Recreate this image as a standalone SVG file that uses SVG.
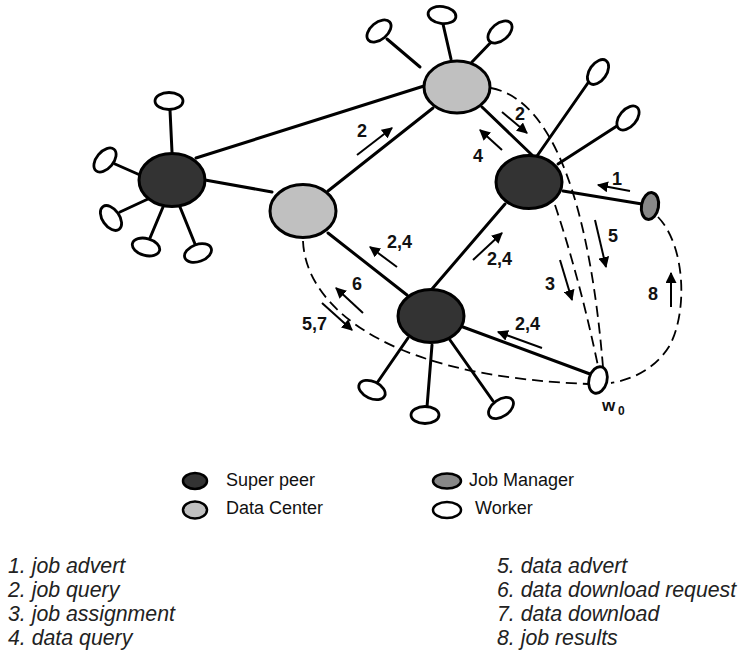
<svg xmlns="http://www.w3.org/2000/svg" width="743" height="654" viewBox="0 0 743 654">
<style>
.e{stroke:#000;stroke-width:3;fill:none;stroke-linecap:round}
.d{stroke:#000;stroke-width:1.8;fill:none;stroke-dasharray:11 6}
.a{stroke:#000;stroke-width:2;fill:none;marker-end:url(#ah)}
.sp{fill:#333;stroke:#000;stroke-width:3}
.dc{fill:#c0c0c0;stroke:#000;stroke-width:3}
.jm{fill:#888;stroke:#000;stroke-width:3}
.w{fill:#fff;stroke:#000;stroke-width:2.8}
.lbl{font-family:"Liberation Sans",Arial,sans-serif;font-weight:bold;font-size:18px;fill:#111}
.lg{font-family:"Liberation Sans",Arial,sans-serif;font-size:18px;fill:#111}
.li{font-family:"Liberation Sans",Arial,sans-serif;font-style:italic;font-size:21.3px;fill:#222}
</style>
<defs>
<marker id="ah" viewBox="0 0 10 10" refX="9" refY="5" markerWidth="5.5" markerHeight="5.5" orient="auto" markerUnits="strokeWidth">
<path d="M0,0 L10,5 L0,10 z" fill="#000"/>
</marker>
</defs>
<rect width="743" height="654" fill="#fff"/>
<g id="connectors">
<line class="e" x1="196" y1="158" x2="424" y2="86"/>
<line class="e" x1="205" y1="180" x2="272" y2="192"/>
<line class="e" x1="328" y1="191" x2="433" y2="108"/>
<line class="e" x1="482" y1="107" x2="532" y2="155"/>
<line class="e" x1="505" y1="204" x2="432" y2="289"/>
<line class="e" x1="328" y1="233" x2="407" y2="295"/>
<line class="e" x1="463" y1="327" x2="590" y2="374"/>
<line class="e" x1="563" y1="191" x2="642" y2="204"/>
<line class="e" x1="172" y1="152" x2="170" y2="110"/>
<line class="e" x1="140" y1="175" x2="115" y2="164"/>
<line class="e" x1="148" y1="199" x2="120" y2="212"/>
<line class="e" x1="163" y1="207" x2="150" y2="238"/>
<line class="e" x1="180" y1="207" x2="195" y2="244"/>
<line class="e" x1="420" y1="67" x2="387" y2="39"/>
<line class="e" x1="451" y1="59" x2="443" y2="24"/>
<line class="e" x1="472" y1="62" x2="495" y2="38"/>
<line class="e" x1="537" y1="156" x2="590" y2="80"/>
<line class="e" x1="558" y1="164" x2="620" y2="124"/>
<line class="e" x1="408" y1="338" x2="377" y2="383"/>
<line class="e" x1="432" y1="345" x2="427" y2="407"/>
<line class="e" x1="450" y1="340" x2="493" y2="401"/>
<path class="d" d="M491,88 C555,100 590,210 603,367"/>
<path class="d" d="M555,205 Q580,280 598,366"/>
<path class="d" d="M658,217 C685,245 688,310 670,345 C655,370 630,380 611,383"/>
<path class="d" d="M303,241 C305,290 350,335 430,360 C480,376 540,382 588,384"/>
<line class="a" x1="357" y1="155" x2="392" y2="128"/>
<line class="a" x1="502" y1="112" x2="527" y2="133"/>
<line class="a" x1="502" y1="150" x2="480" y2="130"/>
<line class="a" x1="630" y1="191" x2="598" y2="185"/>
<line class="a" x1="595" y1="220" x2="606" y2="267"/>
<line class="a" x1="560" y1="260" x2="572" y2="300"/>
<line class="a" x1="671" y1="307" x2="671" y2="273"/>
<line class="a" x1="473" y1="260" x2="502" y2="233"/>
<line class="a" x1="542" y1="348" x2="498" y2="332"/>
<line class="a" x1="397" y1="267" x2="370" y2="247"/>
<line class="a" x1="363" y1="313" x2="336" y2="288"/>
<line class="a" x1="322" y1="303" x2="352" y2="330"/>
<text class="lbl" x="357" y="137">2</text>
<text class="lbl" x="515" y="120">2</text>
<text class="lbl" x="473" y="162">4</text>
<text class="lbl" x="612" y="185">1</text>
<text class="lbl" x="608" y="242">5</text>
<text class="lbl" x="545" y="290">3</text>
<text class="lbl" x="648" y="300">8</text>
<text class="lbl" x="487" y="265">2,4</text>
<text class="lbl" x="515" y="330">2,4</text>
<text class="lbl" x="387" y="248">2,4</text>
<text class="lbl" x="352" y="290">6</text>
<text class="lbl" x="302" y="330">5,7</text>
</g>
<g id="sp1"><ellipse class="sp" cx="172" cy="180" rx="33" ry="26.5"/></g>
<g id="dc1"><ellipse class="dc" cx="303" cy="211" rx="33" ry="26.5"/></g>
<g id="dc2"><ellipse class="dc" cx="457" cy="87" rx="33" ry="26"/></g>
<g id="sp2"><ellipse class="sp" cx="529" cy="182" rx="33" ry="26.5"/></g>
<g id="sp3"><ellipse class="sp" cx="431" cy="316" rx="33" ry="26.5"/></g>
<g id="jm"><ellipse class="jm" cx="650" cy="206" rx="8.5" ry="13.5" transform="rotate(10 650 206)"/></g>
<g id="w0"><ellipse class="w" cx="598" cy="380" rx="9" ry="13.5" transform="rotate(15 598 380)"/>
<text class="lbl" x="602" y="411" style="font-size:17px">w</text><text class="lbl" x="618" y="415" style="font-size:12px">0</text></g>
<g id="workers">
<ellipse class="w" cx="169" cy="101" rx="14" ry="8.5"/>
<ellipse class="w" cx="105" cy="160" rx="14" ry="8.5" transform="rotate(-50 105 160)"/>
<ellipse class="w" cx="111" cy="218" rx="14" ry="8.5" transform="rotate(55 111 218)"/>
<ellipse class="w" cx="146" cy="247" rx="14" ry="8.5" transform="rotate(15 146 247)"/>
<ellipse class="w" cx="198" cy="253" rx="14" ry="8.5" transform="rotate(-20 198 253)"/>
<ellipse class="w" cx="379" cy="31" rx="14" ry="8.5" transform="rotate(-40 379 31)"/>
<ellipse class="w" cx="442" cy="15" rx="14" ry="8.5" transform="rotate(8 442 15)"/>
<ellipse class="w" cx="500" cy="32" rx="14" ry="8.5" transform="rotate(-40 500 32)"/>
<ellipse class="w" cx="598" cy="72" rx="14" ry="8.5" transform="rotate(-55 598 72)"/>
<ellipse class="w" cx="628" cy="118" rx="14" ry="8.5" transform="rotate(-50 628 118)"/>
<ellipse class="w" cx="372" cy="390" rx="14" ry="8.5" transform="rotate(25 372 390)"/>
<ellipse class="w" cx="425" cy="415" rx="14" ry="8.5"/>
<ellipse class="w" cx="501" cy="408" rx="14" ry="8.5" transform="rotate(-35 501 408)"/>
</g>
<g id="legend">
<ellipse class="sp" cx="195" cy="481" rx="12" ry="8" style="stroke-width:2.5"/>
<text class="lg" x="226" y="486">Super peer</text>
<ellipse class="dc" cx="195" cy="510" rx="12" ry="8.5" style="stroke-width:2.5"/>
<text class="lg" x="226" y="514">Data Center</text>
<ellipse class="jm" cx="447" cy="481" rx="14" ry="7.5" style="stroke-width:2.5"/>
<text class="lg" x="469" y="486">Job Manager</text>
<ellipse class="w" cx="447" cy="510" rx="14" ry="8" style="stroke-width:2.5"/>
<text class="lg" x="475" y="514">Worker</text>
</g>
<g id="list">
<text class="li" x="8" y="573">1. job advert</text>
<text class="li" x="8" y="597">2. job query</text>
<text class="li" x="8" y="621">3. job assignment</text>
<text class="li" x="8" y="645">4. data query</text>
<text class="li" x="497" y="573">5. data advert</text>
<text class="li" x="497" y="597">6. data download request</text>
<text class="li" x="497" y="621">7. data download</text>
<text class="li" x="497" y="645">8. job results</text>
</g>
</svg>
